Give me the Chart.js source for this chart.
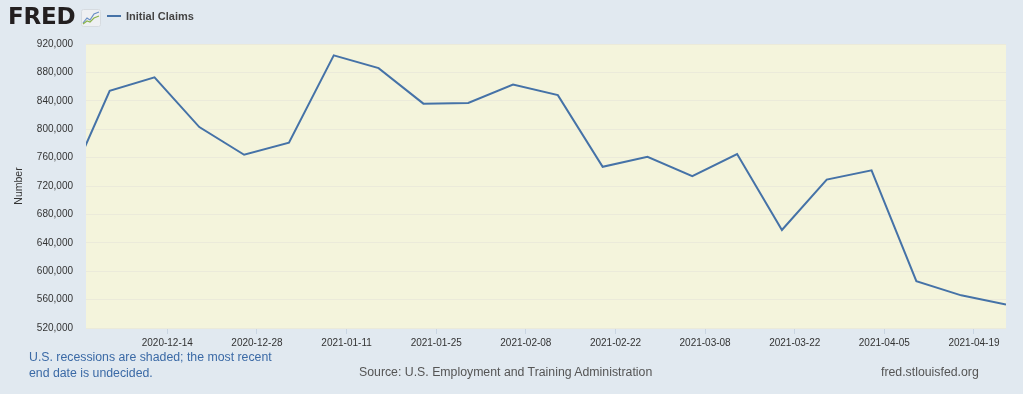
<!DOCTYPE html>
<html>
<head>
<meta charset="utf-8">
<script src="https://cdn.jsdelivr.net/npm/chart.js@4.4.0/dist/chart.umd.min.js"></script>
<style>
  html, body { margin: 0; padding: 0; background: #e1e9f0; }
  body { width: 1023px; height: 394px; position: relative; overflow: hidden;
         font-family: "Liberation Sans", Arial, Helvetica, sans-serif; }
  #wrap { position: absolute; left: 0; top: 0; width: 1023px; height: 394px; }
  .logo { position: absolute; left: 8px; top: 3px; font-size: 23px; font-weight: bold;
          font-family: "DejaVu Sans", sans-serif; color: #231f20; letter-spacing: -0.2px; }
  .logo-icon { position: absolute; left: 81px; top: 9px; }
  .legend { position: absolute; left: 107px; top: 10px; font-size: 11px; font-weight: bold; color: #444; }
  .legend i { display: inline-block; width: 14px; height: 2px; background: #4572a7;
              vertical-align: middle; margin-right: 5px; position: relative; top: -1px; }
  .note { position: absolute; left: 29px; top: 349px; font-size: 12.3px; line-height: 16px; color: #3b6aa6; }
  .source { position: absolute; left: 359px; top: 365px; font-size: 12.3px; color: #555; }
  .site { position: absolute; left: 881px; top: 365px; font-size: 12.3px; color: #555; }
</style>
</head>
<body>
<div id="wrap"><canvas id="chart" width="1023" height="394"></canvas></div>
<div class="logo">FRED</div>
<svg class="logo-icon" width="20" height="18" viewBox="0 0 20 18">
  <rect x="0.5" y="0.5" width="19" height="17" rx="2" fill="#eef0f2" stroke="#d6dbe0"/>
  <polyline points="2,14 6,9 9,11 13,5 18,3" fill="none" stroke="#6a8fc4" stroke-width="1.2"/>
  <polyline points="2,15 6,12 9,13 13,9 18,7" fill="none" stroke="#8ab34a" stroke-width="1.2"/>
</svg>
<div class="legend"><i></i>Initial Claims</div>
<div class="note">U.S. recessions are shaded; the most recent<br>end date is undecided.</div>
<div class="source">Source: U.S. Employment and Training Administration</div>
<div class="site">fred.stlouisfed.org</div>

<script>
// weekly initial claims, week ending Saturday
var weekDates = ['2020-11-28', '2020-12-05', '2020-12-12', '2020-12-19', '2020-12-26',
  '2021-01-02', '2021-01-09', '2021-01-16', '2021-01-23', '2021-01-30',
  '2021-02-06', '2021-02-13', '2021-02-20', '2021-02-27', '2021-03-06',
  '2021-03-13', '2021-03-20', '2021-03-27', '2021-04-03', '2021-04-10',
  '2021-04-17', '2021-04-24'];
var initialClaims = [711000, 854000, 873000, 803000, 764000,
  781000, 904000, 886000, 836000, 837000,
  863000, 848000, 747000, 761000, 734000,
  765000, 658000, 729000, 742000, 586000,
  566000, 553000];
var xTickLabels = ['2020-12-14', '2020-12-28', '2021-01-11', '2021-01-25', '2021-02-08',
  '2021-02-22', '2021-03-08', '2021-03-22', '2021-04-05', '2021-04-19'];
var yTicks = [520000, 560000, 600000, 640000, 680000, 720000, 760000, 800000, 840000, 880000, 920000];

var DAY = 86400000;
var origin = Date.UTC(2020, 11, 14);
function toDay(s) {
  var p = s.split('-');
  return (Date.UTC(+p[0], +p[1] - 1, +p[2]) - origin) / DAY;
}

var points = weekDates.map(function (d, i) {
  return { x: toDay(d), y: initialClaims[i] };
});
var tickDays = xTickLabels.map(toDay);

var plotBg = {
  id: 'plotBg',
  beforeDraw: function (chart) {
    var a = chart.chartArea, c = chart.ctx;
    c.save();
    c.fillStyle = '#f4f4dc';
    c.fillRect(a.left, a.top, a.right - a.left, a.bottom - a.top);
    c.restore();
  }
};

var ctx = document.getElementById('chart');
var myChart = new Chart(ctx, {
  type: 'line',
  data: {
    datasets: [{
      label: 'Initial Claims',
      data: points,
      borderColor: '#4572a7',
      borderWidth: 2,
      pointRadius: 0,
      tension: 0,
      fill: false
    }]
  },
  options: {
    responsive: false,
    animation: false,
    layout: { padding: { left: 0, top: 44, right: 17, bottom: 0 } },
    plugins: { legend: { display: false }, tooltip: { enabled: false } },
    scales: {
      x: {
        type: 'linear',
        min: -12.7,
        max: 131,
        afterFit: function (s) { s.height = 66; },
        afterBuildTicks: function (s) {
          s.ticks = tickDays.map(function (v) { return { value: v }; });
        },
        ticks: {
          autoSkip: false,
          maxRotation: 0,
          padding: 3,
          color: '#333',
          font: { size: 10, family: 'Liberation Sans' },
          callback: function (v) {
            var i = tickDays.indexOf(v);
            return i >= 0 ? xTickLabels[i] : '';
          }
        },
        grid: { drawOnChartArea: false, drawTicks: true, tickLength: 6, color: '#c9d5e2' },
        border: { display: false }
      },
      y: {
        min: 520000,
        max: 920000,
        afterFit: function (s) { s.width = 86; },
        afterBuildTicks: function (s) {
          s.ticks = yTicks.map(function (v) { return { value: v }; });
        },
        ticks: {
          padding: 13,
          color: '#333',
          font: { size: 10, family: 'Liberation Sans' },
          callback: function (v) { return v.toLocaleString('en-US'); }
        },
        grid: { drawTicks: false, color: '#ebeada', lineWidth: 1 },
        border: { display: false },
        title: {
          display: true,
          text: 'Number',
          color: '#333',
          font: { size: 10.5, family: 'Liberation Sans' },
          padding: { top: 13, bottom: 0 }
        }
      }
    }
  },
  plugins: [plotBg]
});
</script>
</body>
</html>
